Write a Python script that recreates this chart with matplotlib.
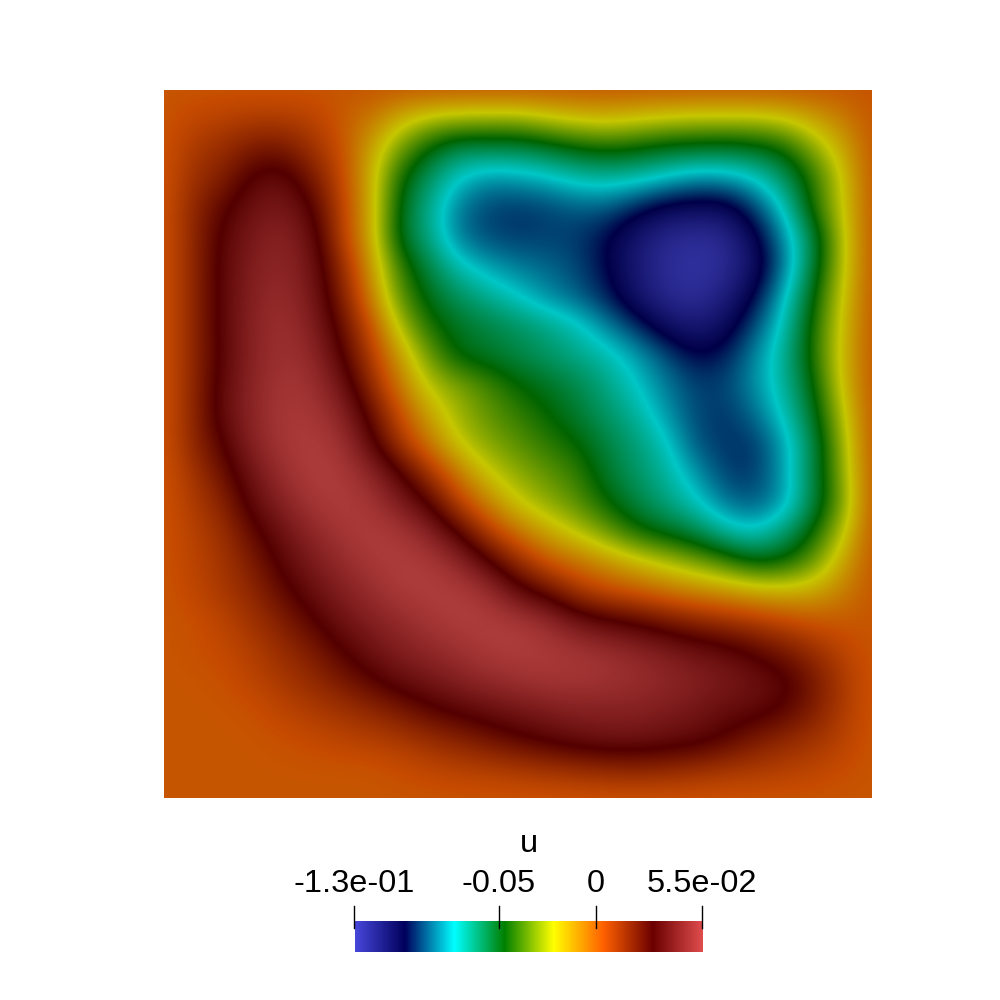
import numpy as np
import matplotlib
matplotlib.use("Agg")
import matplotlib.pyplot as plt
from matplotlib.colors import LinearSegmentedColormap, Normalize

# u on a 25x25 grid, top row first, in units of 1e-3
row00 = [0, 0, 0, 0, 0, 0, 0, 0, 0, 0, 0, 0, 0, 0, 0, 0, 0, 0, 0, 0, 0, 0, 0, 0, 0]
row01 = [0, 4, 6, 8, 8, 6, -1, -7, -20, -28, -31, -32, -32, -27, -23, -21, -24, -26, -28, -28, -28, -25, -17, -9, 0]
row02 = [0, 9, 13, 20, 21, 12, 2, -16, -36, -52, -62, -61, -61, -57, -52, -49, -51, -55, -56, -57, -55, -50, -34, -18, 0]
row03 = [0, 12, 18, 31, 34, 21, 4, -18, -49, -64, -78, -85, -83, -80, -74, -72, -74, -79, -85, -84, -78, -64, -46, -24, 0]
row04 = [0, 15, 27, 36, 40, 30, 6, -17, -53, -70, -88, -95, -97, -95, -92, -92, -100, -108, -110, -110, -96, -77, -47, -25, 0]
row05 = [0, 15, 31, 40, 44, 36, 7, -17, -55, -68, -88, -94, -96, -95, -96, -103, -114, -122, -125, -123, -108, -86, -60, -27, 0]
row06 = [0, 15, 32, 42, 46, 38, 15, -13, -44, -60, -74, -82, -87, -90, -94, -103, -115, -124, -128, -124, -112, -89, -58, -27, 0]
row07 = [0, 15, 32, 43, 48, 40, 19, -8, -39, -54, -63, -70, -77, -85, -91, -99, -113, -122, -125, -118, -104, -80, -52, -24, 0]
row08 = [0, 15, 32, 44, 50, 43, 25, 2, -28, -48, -55, -59, -63, -68, -74, -86, -97, -110, -116, -110, -94, -75, -48, -22, 0]
row09 = [0, 15, 31, 44, 50, 47, 30, 8, -15, -37, -53, -56, -60, -64, -69, -73, -82, -93, -103, -100, -86, -71, -47, -21, 0]
row10 = [0, 15, 33, 45, 52, 50, 38, 15, -8, -27, -34, -42, -50, -55, -60, -68, -77, -87, -95, -95, -85, -72, -52, -22, 0]
row11 = [0, 15, 34, 45, 53, 53, 45, 25, 2, -17, -30, -38, -44, -50, -57, -64, -71, -83, -94, -97, -90, -76, -56, -27, 0]
row12 = [0, 15, 28, 44, 52, 55, 51, 33, 10, -7, -25, -33, -39, -45, -50, -59, -66, -75, -92, -97, -97, -83, -61, -31, 0]
row13 = [0, 10, 23, 37, 49, 55, 54, 46, 30, 11, -8, -24, -32, -38, -44, -56, -64, -71, -83, -95, -97, -83, -60, -33, 0]
row14 = [0, 8, 16, 33, 43, 52, 55, 52, 41, 28, 6, -10, -24, -32, -39, -50, -59, -67, -75, -88, -92, -84, -60, -36, 0]
row15 = [0, 6, 12, 25, 36, 45, 52, 55, 53, 44, 28, 8, -6, -17, -26, -36, -48, -54, -60, -71, -77, -66, -50, -27, 0]
row16 = [0, 5, 10, 19, 31, 40, 47, 53, 55, 54, 46, 30, 14, 0, -6, -13, -20, -27, -34, -42, -52, -50, -38, -17, 0]
row17 = [0, 4, 9, 15, 25, 34, 42, 48, 54, 55, 55, 50, 33, 24, 10, 3, -1, -6, -10, -13, -17, -19, -17, -9, 0]
row18 = [0, 1, 5, 11, 18, 27, 36, 42, 47, 52, 55, 55, 54, 48, 37, 31, 27, 21, 16, 12, 8, 4, 0, -1, 0]
row19 = [0, 1, 3, 7, 13, 19, 28, 36, 42, 46, 50, 54, 55, 54, 52, 49, 45, 41, 36, 33, 27, 20, 13, 5, 0]
row20 = [0, 0, 1, 5, 9, 14, 20, 27, 34, 38, 43, 47, 50, 52, 52, 51, 49, 46, 43, 40, 36, 32, 21, 9, 0]
row21 = [0, 0, 0, 1, 5, 8, 11, 15, 20, 27, 31, 35, 38, 41, 43, 43, 43, 41, 38, 34, 33, 28, 19, 8, 0]
row22 = [0, 0, 0, 0, 1, 3, 5, 7, 9, 13, 17, 22, 27, 31, 35, 37, 37, 35, 33, 28, 20, 15, 11, 6, 0]
row23 = [0, 0, 0, 0, 0, 0, 0, 0, 2, 4, 6, 7, 9, 11, 13, 15, 16, 15, 13, 10, 9, 7, 5, 2, 0]
row24 = [0, 0, 0, 0, 0, 0, 0, 0, 0, 0, 0, 0, 0, 0, 0, 0, 0, 0, 0, 0, 0, 0, 0, 0, 0]

rows = [row00, row01, row02, row03, row04, row05, row06, row07, row08, row09, row10, row11, row12,
        row13, row14, row15, row16, row17, row18, row19, row20, row21, row22, row23, row24]

tick_values = [-0.125, -0.05, 0, 0.055]
tick_labels = ["-1.3e-01", "-0.05", "0", "5.5e-02"]

# rainbow desaturated
stops = [0, 0.143, 0.285, 0.429, 0.571, 0.714, 0.857, 1]
colors = [(71, 71, 219), (0, 0, 92), (0, 255, 255), (0, 128, 0),
          (255, 255, 0), (255, 97, 0), (107, 0, 0), (224, 77, 77)]
bar_cmap = LinearSegmentedColormap.from_list(
    "rd", [(s, np.array(c) / 255) for s, c in zip(stops, colors)], N=1024)
# the field is lit, so it comes out darker than the bar
field_cmap = LinearSegmentedColormap.from_list(
    "rd_lit", [(s, np.array(c) / 255 * 0.78) for s, c in zip(stops, colors)], N=1024)

plt.rcParams["font.family"] = ["Liberation Sans", "DejaVu Sans"]

fig = plt.figure(figsize=(10, 10), dpi=100, facecolor="white")

ax = fig.add_axes([0.164, 0.202, 0.708, 0.708])
field = np.array(rows) * 1e-3
n = field.shape[0] - 1
ax.imshow(field, cmap=field_cmap, norm=Normalize(-0.13, 0.055), interpolation="bicubic",
          interpolation_stage="data", extent=(-0.5, n + 0.5, n + 0.5, -0.5), aspect="auto")
ax.set_xlim(0, n)
ax.set_ylim(n, 0)
ax.axis("off")

# colour bar
cax = fig.add_axes([0.355, 0.048, 0.348, 0.031])
cax.imshow(np.linspace(tick_values[0], tick_values[-1], 512)[None, :], cmap=bar_cmap,
           extent=(tick_values[0], tick_values[-1], 0, 1), aspect="auto")
cax.set_xlim(tick_values[0], tick_values[-1])
cax.set_ylim(0, 1)
cax.axis("off")

for v, label in zip(tick_values, tick_labels):
    xf = fig.transFigure.inverted().transform(cax.transData.transform((v, 0)))[0]
    fig.add_artist(plt.Line2D([xf - 0.0006, xf - 0.0006], [0.072, 0.094], color="black", lw=1))
    fig.text(xf - 0.001, 0.108, label, ha="center", va="baseline", fontsize=23.4, color="black")

fig.text(0.529, 0.148, "u", ha="center", va="baseline", fontsize=23.4, color="black")

fig.savefig("out.png", dpi=100)
